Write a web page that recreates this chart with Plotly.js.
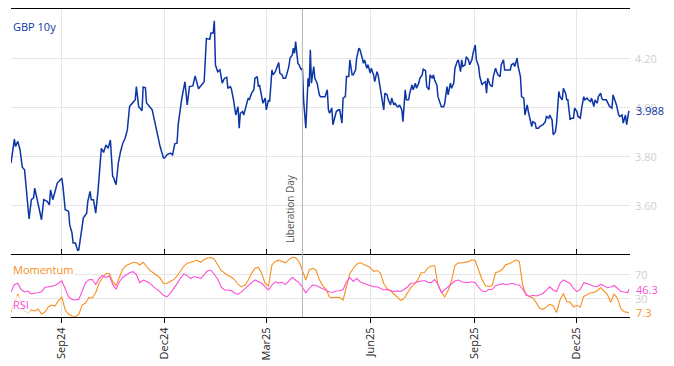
<!DOCTYPE html>
<html>
<head>
<meta charset="utf-8">
<script src="https://cdn.plot.ly/plotly-3.0.1.min.js"></script>
<style>html,body{margin:0;padding:0;background:#fff;}#chart{width:674px;height:366px;}</style>
</head>
<body>
<div id="chart"></div>
<script>
// GBP 10y yield (daily-ish samples)
const gbpDates = [
'2024-07-18','2024-07-21','2024-07-22','2024-07-24','2024-07-26','2024-07-28','2024-07-30',
'2024-08-01','2024-08-03','2024-08-05','2024-08-07','2024-08-08','2024-08-10','2024-08-12','2024-08-14','2024-08-16','2024-08-19','2024-08-21','2024-08-22','2024-08-24','2024-08-26','2024-08-28',
'2024-09-01','2024-09-02','2024-09-04','2024-09-07','2024-09-08','2024-09-10','2024-09-11','2024-09-13','2024-09-15','2024-09-16','2024-09-19','2024-09-20','2024-09-23','2024-09-24','2024-09-26','2024-09-27','2024-09-29',
'2024-10-01','2024-10-03','2024-10-05','2024-10-06','2024-10-08','2024-10-10','2024-10-12','2024-10-14','2024-10-16','2024-10-17','2024-10-19','2024-10-21','2024-10-23','2024-10-25','2024-10-27','2024-10-29','2024-10-31',
'2024-11-05','2024-11-06','2024-11-08','2024-11-11','2024-11-12','2024-11-14','2024-11-15','2024-11-20','2024-11-21','2024-11-24','2024-11-27','2024-11-30',
'2024-12-01','2024-12-03','2024-12-06','2024-12-08','2024-12-10','2024-12-12','2024-12-13','2024-12-16','2024-12-19','2024-12-21','2024-12-23','2024-12-26','2024-12-28','2024-12-31',
'2025-01-03','2025-01-05','2025-01-07','2025-01-10','2025-01-11','2025-01-13','2025-01-14','2025-01-15','2025-01-17','2025-01-19','2025-01-21','2025-01-23','2025-01-25','2025-01-26','2025-01-28','2025-01-29','2025-01-31',
'2025-02-01','2025-02-02','2025-02-04','2025-02-05','2025-02-06','2025-02-08','2025-02-09','2025-02-11','2025-02-13','2025-02-14','2025-02-16','2025-02-18','2025-02-19','2025-02-21','2025-02-22','2025-02-23','2025-02-25','2025-02-26','2025-02-28',
'2025-03-01','2025-03-03','2025-03-04','2025-03-06','2025-03-07','2025-03-09','2025-03-10','2025-03-12','2025-03-13','2025-03-15','2025-03-16','2025-03-18','2025-03-19','2025-03-21','2025-03-22','2025-03-24','2025-03-25','2025-03-26','2025-03-27','2025-03-29','2025-03-30',
'2025-04-01','2025-04-02','2025-04-03','2025-04-05','2025-04-06','2025-04-07','2025-04-08','2025-04-09','2025-04-10','2025-04-11','2025-04-12','2025-04-13','2025-04-15','2025-04-17','2025-04-18','2025-04-20','2025-04-22','2025-04-24','2025-04-25','2025-04-26','2025-04-28','2025-04-29',
'2025-05-01','2025-05-02','2025-05-04','2025-05-05','2025-05-07','2025-05-08','2025-05-10','2025-05-11','2025-05-13','2025-05-14','2025-05-16','2025-05-17','2025-05-19','2025-05-20','2025-05-22','2025-05-23','2025-05-25','2025-05-26','2025-05-27','2025-05-29','2025-05-30',
'2025-06-01','2025-06-02','2025-06-04','2025-06-05','2025-06-07','2025-06-08','2025-06-10','2025-06-11','2025-06-13','2025-06-14','2025-06-16','2025-06-17','2025-06-19','2025-06-20','2025-06-22','2025-06-23','2025-06-25','2025-06-26','2025-06-27','2025-06-29','2025-06-30',
'2025-07-02','2025-07-03','2025-07-05','2025-07-06','2025-07-08','2025-07-09','2025-07-11','2025-07-12','2025-07-14','2025-07-15','2025-07-17','2025-07-18','2025-07-20','2025-07-21','2025-07-23','2025-07-24','2025-07-26','2025-07-27','2025-07-28','2025-07-30','2025-07-31',
'2025-08-02','2025-08-03','2025-08-05','2025-08-06','2025-08-08','2025-08-09','2025-08-11','2025-08-12','2025-08-14','2025-08-15','2025-08-17','2025-08-18','2025-08-20','2025-08-21','2025-08-22','2025-08-24','2025-08-25','2025-08-27','2025-08-28','2025-08-30','2025-08-31',
'2025-09-02','2025-09-03','2025-09-05','2025-09-06','2025-09-08','2025-09-09','2025-09-11','2025-09-12','2025-09-13','2025-09-15','2025-09-17','2025-09-18','2025-09-20','2025-09-21','2025-09-22','2025-09-24','2025-09-25','2025-09-27','2025-09-28','2025-09-30',
'2025-10-03','2025-10-04','2025-10-06','2025-10-07','2025-10-09','2025-10-10','2025-10-12','2025-10-13','2025-10-15','2025-10-16','2025-10-18','2025-10-19','2025-10-21','2025-10-22','2025-10-23','2025-10-25','2025-10-26','2025-10-28','2025-10-29','2025-10-31',
'2025-11-01','2025-11-03','2025-11-04','2025-11-06','2025-11-07','2025-11-09','2025-11-10','2025-11-12','2025-11-13','2025-11-15','2025-11-16','2025-11-18','2025-11-19','2025-11-21','2025-11-22','2025-11-23','2025-11-25','2025-11-26','2025-11-28','2025-11-29',
'2025-12-01','2025-12-02','2025-12-04','2025-12-05','2025-12-07','2025-12-08','2025-12-10','2025-12-11','2025-12-13','2025-12-14','2025-12-16','2025-12-17','2025-12-19','2025-12-20','2025-12-22','2025-12-23','2025-12-24','2025-12-27','2025-12-30',
'2026-01-01','2026-01-02','2026-01-04','2026-01-05','2026-01-07','2026-01-08','2026-01-10','2026-01-11','2026-01-13','2026-01-14','2026-01-16'
];
const gbp10y = [
3.774,3.872,3.842,3.863,3.829,3.758,3.747,
3.652,3.546,3.625,3.632,3.672,3.632,3.584,3.543,3.625,3.618,3.604,3.665,3.625,3.665,3.693,
3.713,3.679,3.584,3.577,3.522,3.489,3.448,3.448,3.418,3.420,3.516,3.550,3.570,3.618,3.659,3.625,3.625,
3.570,3.659,3.774,3.835,3.818,3.849,3.835,3.869,3.720,3.713,3.686,3.774,3.822,3.856,3.876,3.910,4.006,
4.033,4.087,4.006,3.988,4.085,4.082,4.020,3.992,3.971,3.910,3.842,3.795,
3.795,3.808,3.815,3.808,3.853,3.856,3.931,4.033,4.107,4.012,4.087,4.090,4.131,4.078,
4.094,4.107,4.284,4.280,4.306,4.306,4.356,4.175,4.148,4.155,4.101,4.121,4.125,4.080,4.087,4.080,4.033,
4.005,3.971,4.005,3.917,3.978,3.985,3.971,4.005,4.040,4.033,4.060,4.074,4.121,4.128,4.087,4.094,4.040,4.019,4.040,
3.992,4.033,4.026,4.155,4.135,4.148,4.162,4.185,4.142,4.135,4.121,4.121,4.135,4.169,4.203,4.216,4.244,4.223,4.271,4.182,4.176,
4.155,4.162,4.033,3.917,4.019,4.121,4.087,4.237,4.101,4.128,4.169,4.121,4.101,4.053,4.046,4.046,4.046,4.074,3.992,3.978,3.999,3.931,
3.965,3.985,3.992,3.992,3.938,4.040,4.046,4.128,4.128,4.196,4.135,4.135,4.155,4.203,4.244,4.237,4.203,4.182,4.196,4.162,4.176,
4.142,4.162,4.135,4.107,4.148,4.135,4.074,4.060,3.992,4.060,4.053,4.033,4.012,4.040,4.012,4.019,4.005,4.005,4.012,3.992,3.944,
4.074,4.033,4.033,4.060,4.094,4.074,4.101,4.080,4.101,4.121,4.135,4.158,4.152,4.087,4.074,4.135,4.121,4.135,4.114,4.094,4.046,
4.019,4.005,4.005,4.019,4.087,4.053,4.101,4.080,4.101,4.162,4.189,4.196,4.148,4.196,4.169,4.176,4.209,4.196,4.176,4.196,4.223,
4.257,4.196,4.169,4.128,4.094,4.101,4.107,4.060,4.121,4.094,4.087,4.128,4.162,4.148,4.135,4.128,4.176,4.196,4.155,4.155,
4.155,4.176,4.182,4.169,4.203,4.169,4.128,4.046,4.040,3.971,4.012,3.985,3.951,3.924,3.944,3.938,3.917,3.917,3.924,3.931,
3.931,3.944,3.965,3.958,3.971,3.951,3.890,3.903,3.938,4.067,4.046,4.033,4.080,4.060,4.033,4.033,3.951,3.958,3.958,3.999,
3.985,3.965,3.958,3.992,4.046,4.033,4.040,4.033,4.026,4.040,4.005,4.033,4.019,4.046,4.060,4.040,4.033,4.033,4.005,
3.999,4.053,4.026,4.012,3.971,3.965,3.971,3.938,3.971,3.931,3.988
];

// Oscillator panel (sampled every 3 days)
const oscDates = [
'2024-07-18','2024-07-21','2024-07-24','2024-07-27','2024-07-30','2024-08-02','2024-08-05','2024-08-08','2024-08-11','2024-08-14',
'2024-08-17','2024-08-20','2024-08-23','2024-08-26','2024-08-29','2024-09-01','2024-09-04','2024-09-07','2024-09-10','2024-09-13',
'2024-09-16','2024-09-19','2024-09-22','2024-09-25','2024-09-28','2024-10-01','2024-10-04','2024-10-07','2024-10-10','2024-10-13',
'2024-10-16','2024-10-19','2024-10-22','2024-10-25','2024-10-28','2024-10-31','2024-11-03','2024-11-06','2024-11-09','2024-11-12',
'2024-11-15','2024-11-18','2024-11-21','2024-11-24','2024-11-27','2024-11-30','2024-12-03','2024-12-06','2024-12-09','2024-12-12',
'2024-12-15','2024-12-18','2024-12-21','2024-12-24','2024-12-27','2024-12-30','2025-01-02','2025-01-05','2025-01-08','2025-01-11',
'2025-01-14','2025-01-17','2025-01-20','2025-01-23','2025-01-26','2025-01-29','2025-02-01','2025-02-04','2025-02-07','2025-02-10',
'2025-02-13','2025-02-16','2025-02-19','2025-02-22','2025-02-25','2025-02-28','2025-03-03','2025-03-06','2025-03-09','2025-03-12',
'2025-03-15','2025-03-18','2025-03-21','2025-03-24','2025-03-27','2025-03-30','2025-04-02','2025-04-05','2025-04-08','2025-04-11',
'2025-04-14','2025-04-17','2025-04-20','2025-04-23','2025-04-26','2025-04-29','2025-05-02','2025-05-05','2025-05-08','2025-05-11',
'2025-05-14','2025-05-17','2025-05-20','2025-05-23','2025-05-26','2025-05-29','2025-06-01','2025-06-04','2025-06-07','2025-06-10',
'2025-06-13','2025-06-16','2025-06-19','2025-06-22','2025-06-25','2025-06-28','2025-07-01','2025-07-04','2025-07-07','2025-07-10',
'2025-07-13','2025-07-16','2025-07-19','2025-07-22','2025-07-25','2025-07-28','2025-07-31','2025-08-03','2025-08-06','2025-08-09',
'2025-08-12','2025-08-15','2025-08-18','2025-08-21','2025-08-24','2025-08-27','2025-08-30','2025-09-02','2025-09-05','2025-09-08',
'2025-09-11','2025-09-14','2025-09-17','2025-09-20','2025-09-23','2025-09-26','2025-09-29','2025-10-02','2025-10-05','2025-10-08',
'2025-10-11','2025-10-14','2025-10-17','2025-10-20','2025-10-23','2025-10-26','2025-10-29','2025-11-01','2025-11-04','2025-11-07',
'2025-11-10','2025-11-13','2025-11-16','2025-11-19','2025-11-22','2025-11-25','2025-11-28','2025-12-01','2025-12-04','2025-12-07',
'2025-12-10','2025-12-13','2025-12-16','2025-12-19','2025-12-22','2025-12-25','2025-12-28','2025-12-31','2026-01-03','2026-01-06',
'2026-01-09','2026-01-12','2026-01-15','2026-01-16'
];
const momentum = [
8.3,25,38.3,25,10,6.7,11.7,10,13.3,5,
8.3,16.7,20,18.3,27.5,32.8,11.7,5,1.7,0.5,
4.2,20,23.3,32.5,31.7,40.8,56.7,65,72.5,72.5,
59.2,52.5,66.7,80,85.8,88.3,90.8,90.8,86.7,91.2,
84.2,77.2,73.7,69.2,65,55.8,56.2,59,62.3,68,
76.7,84.5,89.7,90.8,92.8,94.5,91.2,95.7,98.2,99,
96.2,87,77.5,73.3,69.2,66.7,62,54.2,50.5,53,
61.2,72.7,81.3,82.5,72.5,55.8,51.7,86.7,92.5,94.7,
91.8,90.2,95.7,99.5,98.7,92.5,77.5,61.7,78.3,81.2,
78.3,62,52.2,45.7,32.8,32.2,33,32.5,28.3,50.8,
73,80.8,88,90.8,88,85,82.5,76.2,77.5,73.3,
55.8,46.7,43.7,38.3,32.2,27.8,30.8,40.8,49.2,54.5,
61.3,73.8,74.2,81.5,85,85.8,53.3,41.7,33.3,44.5,
60.8,85.8,90.2,90,91.3,92.2,95.3,93.7,78.3,62.5,
52.5,50.5,52.5,73.8,75.8,79.5,87.3,88.8,91.7,95.3,
92.5,53.3,36.7,33.8,31.7,24,14.5,12.8,17,21.2,
18.7,7.5,28.3,39,25.8,24.5,17,19,16.5,34.2,
37,40,41,43.7,49,42.8,37.3,24.5,38.8,30.2,
13.3,8.8,7.8,7.3
];
const rsi = [
41.7,54.2,55.8,45.8,41.7,43.3,38.3,40,40.3,42.2,
49.2,50.5,51.2,52.5,56.2,60.3,47,33.3,29.3,28.3,
29.3,44.2,57,62.2,62.5,54.2,64.2,69.3,65.8,68.8,
54.7,46.3,58.8,66.3,70.5,73.8,75.5,70.5,57,61.5,
59,56.3,50.5,46.7,42,36.2,33.7,39.5,47,55.7,
64.5,71.8,69,64,67.5,65.7,64.5,70.7,77,78.3,
71.7,63.3,50,45,45,44,40,37.5,41.8,47.5,
53.2,57.3,61.7,58.8,56.2,50.3,45.3,53.3,58.7,56.5,
57.8,54,59.7,66.2,61.2,57.2,49.3,40.2,47.5,53.3,
52.5,49.5,47,44.2,41.7,41.2,43.2,43.7,45.8,58.3,
65.8,59.2,64.5,58.8,56.2,54.2,52.5,50.5,50.3,47.5,
45,46,44.7,42.5,43.5,42.5,45.8,50,56.2,56.7,
58.8,59.7,60.8,58,57.3,62.5,54.2,40.8,45,50.3,
55,60,61.7,58.8,57.5,57.5,58.8,57.3,49.2,43.2,
42.2,45.8,45.8,52.2,53.8,55.5,53.7,55.5,56.2,53.8,
53.3,46.2,37.8,34.2,36.3,35,36.5,39.2,44.7,50.3,
45,42.3,56.2,61.7,58.8,55.8,47.5,42.3,46.3,56.7,
55.7,53.3,51.3,50.5,54.2,52,48.7,50,52.5,47.5,
42.8,41.7,40.8,46.3
];

const yTicksTop = [3.6, 3.8, 4.0, 4.2];
const yTicksBottom = [30, 70];
const eventDate = '2025-04-02';
const eventLabel = 'Liberation Day';

const BLUE = '#0c35a6', ORANGE = '#f7901e', MAGENTA = '#fb4fd6';
const GRID = '#e6e6e6', TICKGREY = '#cfcfcf';
const split = 0.2013;
const xRange = ['2024-07-18', '2026-01-17'];
const plotH = 366 - 9 - 49;
const topLineY = 1 + 0.5 / plotH;   // half-pixel offset keeps the top border crisp

const traces = [
  {x: gbpDates, y: gbp10y, type: 'scatter', mode: 'lines', line: {color: BLUE, width: 1.5}, xaxis: 'x', yaxis: 'y', hoverinfo: 'skip'},
  {x: oscDates, y: momentum, type: 'scatter', mode: 'lines', line: {color: ORANGE, width: 1.1}, xaxis: 'x2', yaxis: 'y2', hoverinfo: 'skip'},
  {x: oscDates, y: rsi, type: 'scatter', mode: 'lines', line: {color: MAGENTA, width: 1.1}, xaxis: 'x2', yaxis: 'y2', hoverinfo: 'skip'}
];

const lastG = gbp10y[gbp10y.length - 1];
const lastM = momentum[momentum.length - 1];
const lastR = rsi[rsi.length - 1];
const labelBg = 'rgba(255,255,255,0.7)';

const layout = {
  width: 674, height: 366,
  margin: {l: 11, r: 44, t: 9, b: 49, pad: 0},
  paper_bgcolor: '#fff', plot_bgcolor: '#fff',
  showlegend: false,
  font: {family: '"Open Sans", "DejaVu Sans", sans-serif', size: 11, color: '#222'},
  xaxis: {
    domain: [0, 1], anchor: 'y', type: 'date', range: xRange,
    showline: false, ticks: '', showticklabels: false,
    showgrid: true, gridcolor: GRID, gridwidth: 1, zeroline: false,
    dtick: 'M3', tick0: '2024-09-01'
  },
  xaxis2: {
    domain: [0, 1], anchor: 'y2', type: 'date', matches: 'x',
    showline: true, linecolor: '#000', linewidth: 1, mirror: 'ticks',
    ticks: 'outside', ticklen: 5, tickcolor: '#000', tickwidth: 1,
    showgrid: true, gridcolor: GRID, zeroline: false,
    dtick: 'M3', tick0: '2024-09-01', tickformat: '%b%y', tickangle: -90,
    tickfont: {size: 11, color: '#222'}
  },
  yaxis: {
    domain: [split, 1], anchor: 'x', side: 'right',
    range: [3.399, 4.404], tickvals: yTicksTop, tickformat: '.2f',
    showgrid: true, gridcolor: GRID, zeroline: false, showline: false,
    ticks: '', ticklabelstandoff: 4,
    tickfont: {size: 11, color: TICKGREY}
  },
  yaxis2: {
    domain: [0, split], anchor: 'x2', side: 'right',
    range: [0, 103.3], tickvals: yTicksBottom,
    showgrid: true, gridcolor: GRID, zeroline: false, showline: false,
    ticks: '', ticklabelstandoff: 4,
    tickfont: {size: 11, color: TICKGREY}
  },
  shapes: [
    {type: 'line', xref: 'x', yref: 'paper', x0: eventDate, x1: eventDate, y0: 0, y1: 1,
     line: {color: '#b4b4b4', width: 1}, layer: 'above'},
    {type: 'line', xref: 'paper', yref: 'paper', x0: 0, x1: 1, y0: topLineY, y1: topLineY,
     line: {color: '#000', width: 1}, layer: 'above'}
  ],
  annotations: [
    {text: 'GBP 10y', xref: 'paper', yref: 'paper', x: 0, y: 1, xanchor: 'left', yanchor: 'top',
     xshift: 0, yshift: -8, showarrow: false, bgcolor: labelBg, font: {size: 11, color: BLUE}},
    {text: 'Momentum', xref: 'paper', yref: 'paper', x: 0, y: split, xanchor: 'left', yanchor: 'top',
     xshift: 0, yshift: -5, showarrow: false, bgcolor: labelBg, font: {size: 11, color: ORANGE}},
    {text: 'RSI', xref: 'paper', yref: 'paper', x: 0, y: 0, xanchor: 'left', yanchor: 'bottom',
     xshift: 0, yshift: 3, showarrow: false, bgcolor: labelBg, font: {size: 11, color: MAGENTA}},
    {text: lastG.toFixed(3), xref: 'paper', yref: 'y', x: 1, y: lastG, xanchor: 'left', yanchor: 'middle',
     xshift: 4, showarrow: false, font: {size: 11, color: BLUE}},
    {text: lastR.toFixed(1), xref: 'paper', yref: 'y2', x: 1, y: lastR, xanchor: 'left', yanchor: 'middle',
     xshift: 4, showarrow: false, font: {size: 11, color: MAGENTA}},
    {text: lastM.toFixed(1), xref: 'paper', yref: 'y2', x: 1, y: lastM, xanchor: 'left', yanchor: 'middle',
     xshift: 4, showarrow: false, font: {size: 11, color: ORANGE}},
    {text: eventLabel, xref: 'x', yref: 'paper', x: eventDate, y: split, xanchor: 'right', yanchor: 'bottom',
     xshift: -3, yshift: 10, textangle: -90, showarrow: false, font: {size: 10, color: '#555'}}
  ]
};

Plotly.newPlot('chart', traces, layout, {staticPlot: true, displayModeBar: false});
</script>
</body>
</html>
